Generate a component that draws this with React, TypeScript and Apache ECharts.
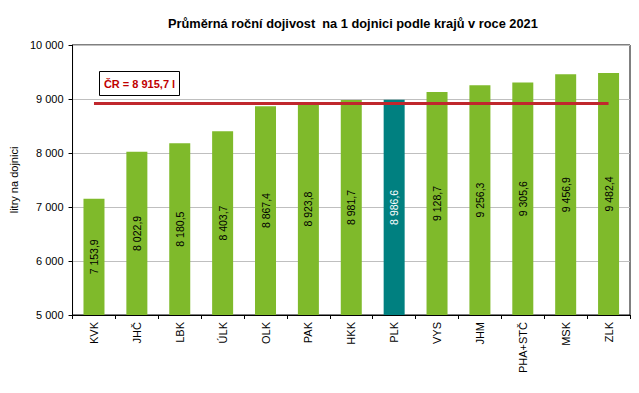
import React, { useEffect, useRef } from "react";
import * as echarts from "echarts";

const categories = ["KVK", "JHČ", "LBK", "ÚLK", "OLK", "PAK", "HKK", "PLK", "VYS", "JHM", "PHA+STČ", "MSK", "ZLK"];
const values = [7153.9, 8022.9, 8180.5, 8403.7, 8867.4, 8923.8, 8981.7, 8986.6, 9128.7, 9256.3, 9305.6, 9456.9, 9482.4];
const highlighted = "PLK";
const czAverage = 8915.7;
const yTicks = [5000, 6000, 7000, 8000, 9000, 10000];

const FONT = "Arial, 'Liberation Sans', sans-serif";

function fmtThousands(v: number): string {
  const s = Math.round(v).toString();
  return s.replace(/\B(?=(\d{3})+(?!\d))/g, " ");
}
function fmtDec(v: number): string {
  const fixed = v.toFixed(1);
  const [i, d] = fixed.split(".");
  return fmtThousands(Number(i)) + "," + d;
}

export default function App() {
  const ref = useRef<HTMLDivElement>(null);
  useEffect(() => {
    if (!ref.current) return;
    const chart = echarts.init(ref.current, undefined, { renderer: "svg" });
    const option: any = {
      animation: false,
      backgroundColor: "#ffffff",
      title: {
        text: "Průměrná roční dojivost  na 1 dojnici podle krajů v roce 2021",
        left: 163,
        top: 12,
        textStyle: { fontFamily: FONT, fontSize: 12.8, fontWeight: "bold", color: "#000" },
      },
      grid: {
        left: 67,
        right: 9,
        top: 45,
        bottom: 78,
        show: true,
        borderColor: "#000",
        borderWidth: 1,
        containLabel: false,
      },
      xAxis: {
        type: "category",
        data: categories,
        axisLine: { lineStyle: { color: "#000", width: 1 } },
        axisTick: { show: true, alignWithLabel: false, interval: 0, length: 4, lineStyle: { color: "#000" } },
        axisLabel: { rotate: 90, interval: 0, margin: 7, fontSize: 11, fontFamily: FONT, color: "#000" },
        splitLine: { show: false },
      },
      yAxis: {
        type: "value",
        min: yTicks[0],
        max: yTicks[yTicks.length - 1],
        interval: 1000,
        name: "litry na dojnici",
        nameLocation: "middle",
        nameGap: 50,
        nameTextStyle: { fontFamily: FONT, fontSize: 11, color: "#000" },
        axisLine: { show: true, lineStyle: { color: "#000", width: 1 } },
        axisTick: { show: true, length: 4, lineStyle: { color: "#000" } },
        axisLabel: {
          margin: 9,
          fontSize: 11,
          fontFamily: FONT,
          color: "#000",
          formatter: (v: number) => fmtThousands(v),
        },
        splitLine: { show: true, lineStyle: { color: "#BFBFBF", width: 1 } },
      },
      series: [
        {
          type: "bar",
          barWidth: 21,
          data: values.map((v, i) => {
            const hl = categories[i] === highlighted;
            return {
              value: v,
              itemStyle: { color: hl ? "#008080" : "#7FBA2B" },
              label: { color: hl ? "#ffffff" : "#000000" },
            };
          }),
          label: {
            show: true,
            position: "inside",
            rotate: 90,
            fontSize: 10.5,
            fontFamily: FONT,
            formatter: (p: any) => fmtDec(p.value),
          },
          markLine: {
            silent: true,
            symbol: ["none", "none"],
            label: { show: false },
            lineStyle: { color: "#C0272D", width: 3, type: "solid" },
            data: [
              [
                { coord: [categories[0], czAverage] },
                { coord: [categories[categories.length - 1], czAverage] },
              ],
            ],
          },
        },
      ],
      graphic: [
        {
          type: "rect",
          shape: { x: 99.5, y: 71.5, width: 80, height: 24 },
          style: { fill: "#ffffff", stroke: "#000", lineWidth: 1 },
          z: 10,
        },
        {
          type: "text",
          x: 139.5,
          y: 83.5,
          style: {
            text: "ČR = " + fmtDec(czAverage) + " l",
            fill: "#C00000",
            font: "bold 11px " + FONT,
            align: "center",
            verticalAlign: "middle",
          },
          z: 11,
        },
      ],
    };
    chart.setOption(option);
    return () => chart.dispose();
  }, []);
  return (
    <div
      ref={ref}
      style={{ position: "fixed", left: 0, top: 0, width: 639, height: 393 }}
    />
  );
}
